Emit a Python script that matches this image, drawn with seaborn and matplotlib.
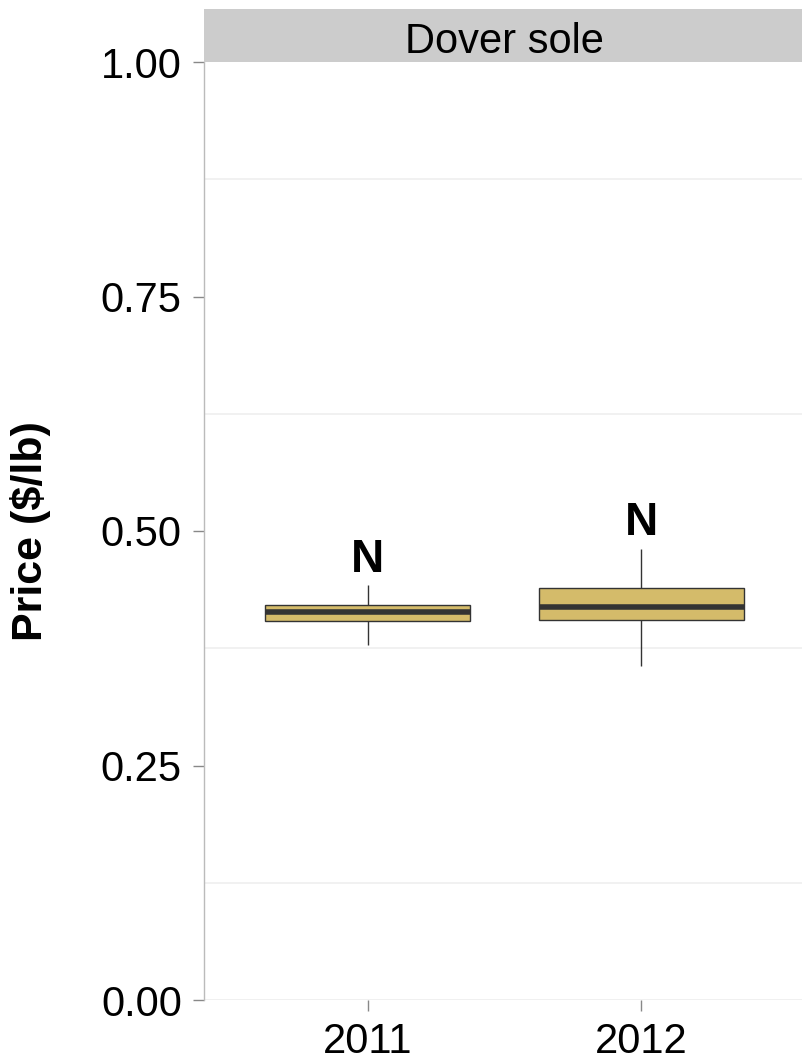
import pandas as pd
import matplotlib.pyplot as plt
import seaborn as sns

# Price samples: whisker low, Q1, median, Q3, whisker high
years = ["2011", "2012"]
prices_2011 = [0.378, 0.404, 0.4136, 0.421, 0.442]
prices_2012 = [0.356, 0.405, 0.419, 0.439, 0.481]
n_label_y = [0.469, 0.508]
n_labels = ["N", "N"]
y_ticks = [0.0, 0.25, 0.5, 0.75, 1.0]
y_ticklabels = ["0.00", "0.25", "0.50", "0.75", "1.00"]
minor_grid = [0.125, 0.375, 0.625, 0.875]
facet_title = "Dover sole"

df = pd.DataFrame({
    "Year": [years[0]] * len(prices_2011) + [years[1]] * len(prices_2012),
    "Price": prices_2011 + prices_2012,
})

sns.set_theme(style="white")
plt.rcParams["font.family"] = ["Liberation Sans", "DejaVu Sans"]

fig = plt.figure(figsize=(8.03, 10.60), dpi=100)
W, H = 803, 1060
left_px, right_px, top_px, bottom_px = 204, 805, 62, 1000
ax = fig.add_axes([left_px / W, 1 - bottom_px / H,
                   (right_px - left_px) / W, (bottom_px - top_px) / H])

# light minor grid like the ggplot theme
for g in minor_grid:
    ax.axhline(g, color="#EFEFEF", lw=1.2, zorder=0)
ax.axhline(0, color="#EFEFEF", lw=2, zorder=0)

sns.boxplot(
    data=df, x="Year", y="Price", ax=ax, order=years,
    width=0.75, color="#D4BB6A", saturation=1, whis=(0, 100),
    showcaps=False, linecolor="#333333", linewidth=1.0,
    medianprops=dict(color="#333333", linewidth=4),
    whiskerprops=dict(color="#333333", linewidth=1.0),
)

for i, (yy, lab) in enumerate(zip(n_label_y, n_labels)):
    ax.text(i, yy, lab, ha="center", va="center", fontsize=33,
            fontweight="bold", family=["Liberation Sans Narrow", "Liberation Sans", "DejaVu Sans"],
            color="black")

ax.set_xlim(-0.6, 1.6)
ax.set_ylim(0, 1)
ax.set_yticks(y_ticks)
ax.set_yticklabels(y_ticklabels)
ax.set_xlabel("")
ax.set_ylabel("Price ($/lb)", fontsize=31, fontweight="bold", color="black", labelpad=36)
ax.tick_params(axis="both", labelsize=30, colors="#888888", labelcolor="black",
               length=8, width=1, pad=8, left=True, bottom=True)
for s in ["top", "right"]:
    ax.spines[s].set_visible(False)
ax.spines["bottom"].set_visible(False)
ax.spines["left"].set_color("#BBBBBB")
ax.spines["left"].set_linewidth(1)

# facet strip
sax = fig.add_axes([left_px / W, 1 - top_px / H, (right_px - left_px) / W, 53 / H])
sax.set_facecolor("#CCCCCC")
sax.set_xticks([])
sax.set_yticks([])
for s in sax.spines.values():
    s.set_visible(False)
sax.text(0.5, 0.17, facet_title, transform=sax.transAxes, ha="center", va="baseline",
         fontsize=30, color="black")

fig.savefig("out.png", dpi=100)
